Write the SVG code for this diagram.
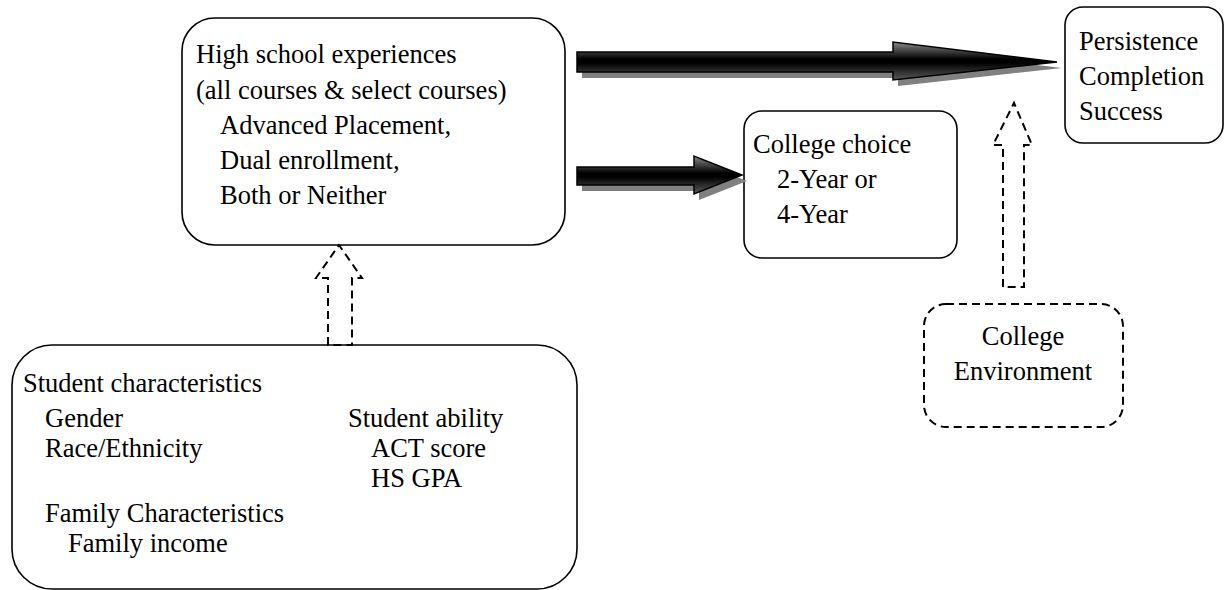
<svg xmlns="http://www.w3.org/2000/svg" width="1228" height="590" viewBox="0 0 1228 590">
<defs>
<linearGradient id="ag" x1="0" y1="0" x2="0" y2="1">
<stop offset="0" stop-color="#8a8a8a"/>
<stop offset="0.45" stop-color="#000"/>
<stop offset="0.55" stop-color="#000"/>
<stop offset="1" stop-color="#5a5a5a"/>
</linearGradient>
</defs>
<style>
.box{fill:#fff;stroke:#000;stroke-width:1.6}
.dbox{fill:#fff;stroke:#000;stroke-width:2;stroke-dasharray:8 5}
.darrow{fill:none;stroke:#000;stroke-width:2;stroke-dasharray:8 5}
.shadow{fill:#808080}
.arrow{fill:url(#ag);stroke:#000;stroke-width:1.5}
text{font-family:"Liberation Serif","Times New Roman",serif;font-size:26.5px;fill:#000}
</style>
<rect width="1228" height="590" fill="#fff"/>
<g id="hs">
<rect class="box" x="182" y="18" width="383" height="227" rx="33"/>
<text x="196" y="63">High school experiences</text>
<text x="196" y="99">(all courses &amp; select courses)</text>
<text x="220" y="134">Advanced Placement,</text>
<text x="220" y="169">Dual enrollment,</text>
<text x="220" y="204">Both or Neither</text>
</g>
<g id="persist">
<rect class="box" x="1065" y="7" width="158" height="136" rx="18"/>
<text x="1079" y="50">Persistence</text>
<text x="1079" y="85">Completion</text>
<text x="1079" y="120">Success</text>
</g>
<g id="choice">
<rect class="box" x="744" y="111" width="213" height="147" rx="18"/>
<text x="753" y="153">College choice</text>
<text x="777" y="188">2-Year or</text>
<text x="777" y="223">4-Year</text>
</g>
<g id="env">
<rect class="dbox" x="924" y="304" width="199" height="123" rx="22"/>
<text x="1023" y="345" text-anchor="middle">College</text>
<text x="1023" y="380" text-anchor="middle">Environment</text>
</g>
<g id="student">
<rect class="box" x="12" y="345" width="565" height="244" rx="40"/>
<text x="23" y="392">Student characteristics</text>
<text x="45" y="427">Gender</text>
<text x="45" y="457">Race/Ethnicity</text>
<text x="45" y="522">Family Characteristics</text>
<text x="68" y="552">Family income</text>
<text x="348" y="427">Student ability</text>
<text x="371" y="457">ACT score</text>
<text x="371" y="487">HS GPA</text>
</g>
<g id="connectors">
<path class="shadow" transform="translate(5,6)" d="M577,52 H893 V42 L1057,62 L893,80 V72 H577 Z"/>
<path class="arrow" d="M577,52 H893 V42 L1057,62 L893,80 V72 H577 Z"/>
<path class="shadow" transform="translate(5,6)" d="M577,167 H694 V156 L742,175 L694,194 V185 H577 Z"/>
<path class="arrow" d="M577,167 H694 V156 L742,175 L694,194 V185 H577 Z"/>
<path class="darrow" d="M328,345 V278 H316 L339,245 L362,278 H352 V345 Z"/>
<path class="darrow" d="M1003,287 V145 H993 L1014,103 L1032,145 H1024 V287 Z"/>
</g>
</svg>
